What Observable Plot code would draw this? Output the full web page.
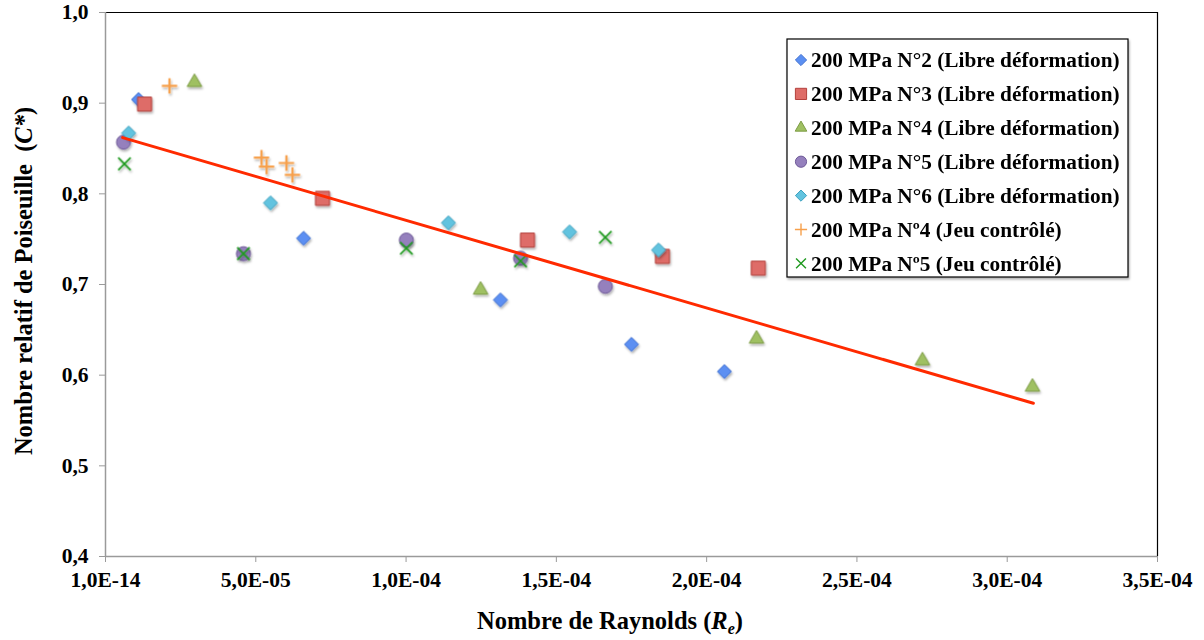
<!DOCTYPE html>
<html><head><meta charset="utf-8">
<script src="https://cdn.jsdelivr.net/npm/d3@7"></script>
<script src="https://cdn.jsdelivr.net/npm/@observablehq/plot@0.6"></script>
<style>
body{margin:0;background:#fff} #chart{width:1204px;height:640px}
#chart svg g[aria-label$="tick label"], #chart svg g[aria-label$="tick label"] text { font-size: 21.5px !important; }
</style>
</head><body><div id="chart"></div>
<script>
// ---- data ----
const seriesNames = [
  "200 MPa N°2 (Libre déformation)",
  "200 MPa N°3 (Libre déformation)",
  "200 MPa N°4 (Libre déformation)",
  "200 MPa N°5 (Libre déformation)",
  "200 MPa N°6 (Libre déformation)",
  "200 MPa Nº4 (Jeu contrôlé)",
  "200 MPa Nº5 (Jeu contrôlé)"
];
const n2X = [1.10e-5, 6.59e-5, 1.314e-4, 1.750e-4, 2.059e-4];
const n2Y = [0.904, 0.751, 0.683, 0.634, 0.604];
const n3X = [1.30e-5, 7.22e-5, 1.404e-4, 1.853e-4, 2.172e-4];
const n3Y = [0.899, 0.795, 0.749, 0.731, 0.718];
const n4X = [2.96e-5, 1.248e-4, 2.166e-4, 2.718e-4, 3.084e-4];
const n4Y = [0.923, 0.694, 0.640, 0.616, 0.587];
const n5X = [6.0e-6, 4.59e-5, 1.001e-4, 1.381e-4, 1.663e-4];
const n5Y = [0.857, 0.734, 0.749, 0.729, 0.698];
const n6X = [7.7e-6, 5.49e-5, 1.141e-4, 1.544e-4, 1.840e-4];
const n6Y = [0.867, 0.790, 0.768, 0.758, 0.738];
const j4X = [2.13e-5, 5.19e-5, 5.36e-5, 6.02e-5, 6.22e-5];
const j4Y = [0.919, 0.840, 0.830, 0.834, 0.821];
const j5X = [6.3e-6, 4.59e-5, 1.001e-4, 1.381e-4, 1.663e-4];
const j5Y = [0.833, 0.734, 0.740, 0.726, 0.752];
const trendX = [5.7e-6, 3.087e-4];
const trendY = [0.862, 0.569];
const xTicks = [1e-14, 5e-5, 1e-4, 1.5e-4, 2e-4, 2.5e-4, 3e-4, 3.5e-4];
const xTickLabels = ["1,0E-14","5,0E-05","1,0E-04","1,5E-04","2,0E-04","2,5E-04","3,0E-04","3,5E-04"];
const yTicks = [0.4, 0.5, 0.6, 0.7, 0.8, 0.9, 1.0];
const yTickLabels = ["0,4","0,5","0,6","0,7","0,8","0,9","1,0"];

// ---- styles ----
const styles = [
  {symbol:"diamond2", r:6.3, fill:"#5b8ff2", stroke:"#3f6fd0", sw:1},
  {symbol:"square",   r:7.9, fill:"#de6c67", stroke:"#b3403c", sw:1},
  {symbol:"triangle", r:5.4, fill:"#9fc062", stroke:"#7d9c45", sw:1},
  {symbol:"circle",   r:7,   fill:"#9580bd", stroke:"#6f5a98", sw:1},
  {symbol:"diamond2", r:6.3, fill:"#62c3df", stroke:"#3ea2c0", sw:1},
  {symbol:"plus",     r:5.0, fill:"none",    stroke:"#f7a04b", sw:2.2},
  {symbol:"times",    r:5.7, fill:"none",    stroke:"#1f9a1f", sw:1.7}
];
const xs = [n2X,n3X,n4X,n5X,n6X,j4X,j5X];
const ys = [n2Y,n3Y,n4Y,n5Y,n6Y,j4Y,j5Y];
const tables = xs.map((X,k) => X.map((x,i) => ({x, y: ys[k][i]})));
const trend = trendX.map((x,i) => ({x, y: trendY[i]}));

const dotMarks = tables.map((t,k) => {
  const s = styles[k];
  return Plot.dot(t, {x:"x", y:"y", symbol: () => s.symbol, r: s.r,
    fill: s.fill, stroke: s.stroke, strokeWidth: s.sw});
});

const plot = Plot.plot({
  width: 1204, height: 640,
  marginLeft: 105, marginRight: 47, marginTop: 12, marginBottom: 84,
  x: {domain: [xTicks[0], xTicks[xTicks.length-1]]},
  y: {domain: [yTicks[0], yTicks[yTicks.length-1]]},
  symbol: {type: "identity"},
  style: {fontFamily: "'Liberation Serif', 'Times New Roman', serif", fontSize: "21px", fontWeight: "bold", color: "#000", background: "#fff", overflow: "visible"},
  marks: [
    Plot.ruleX([xTicks[xTicks.length-1]], {stroke: "#000", strokeWidth: 1.2}),
    Plot.ruleY([yTicks[yTicks.length-1]], {stroke: "#000", strokeWidth: 1.2}),
    Plot.ruleX([xTicks[0]], {stroke: "#9a9a9a", strokeWidth: 1.5}),
    Plot.ruleY([yTicks[0]], {stroke: "#9a9a9a", strokeWidth: 1.5}),
    Plot.axisY(yTicks, {tickSize: 6, tickPadding: 11, stroke: "#9a9a9a", fill: "#000",
      tickFormat: d => yTickLabels[yTicks.indexOf(d)], label: null}),
    Plot.axisX(xTicks, {tickSize: 6, tickPadding: 9, stroke: "#9a9a9a", fill: "#000",
      tickFormat: d => xTickLabels[xTicks.indexOf(d)], label: null}),
    ...dotMarks,
    Plot.line(trend, {x: "x", y: "y", stroke: "#ff2a00", strokeWidth: 3})
  ]
});

document.getElementById("chart").appendChild(plot);
const svg = d3.select(plot);

// shadow filter
const defs = svg.append("defs");
const f = defs.append("filter").attr("id","sh").attr("x","-50%").attr("y","-50%").attr("width","200%").attr("height","200%");
f.append("feDropShadow").attr("dx",1).attr("dy",2).attr("stdDeviation",1.2).attr("flood-color","#000").attr("flood-opacity",0.3);
svg.selectAll("g[aria-label='dot']").attr("filter","url(#sh)");

// y title
const yt = svg.append("text")
  .attr("transform","translate(32,281) rotate(-90)")
  .attr("text-anchor","middle")
  .style("white-space","pre")
  .attr("font-size", 24.5).attr("font-weight","bold");
yt.append("tspan").text("Nombre relatif de Poiseuille  (");
yt.append("tspan").attr("font-style","italic").text("C*");
yt.append("tspan").text(")");

// x title
const xt = svg.append("text")
  .attr("x", 610).attr("y", 629)
  .attr("text-anchor","middle")
  .attr("font-size", 24.5).attr("font-weight","bold");
xt.append("tspan").text("Nombre de Raynolds (");
xt.append("tspan").attr("font-style","italic").text("R");
xt.append("tspan").attr("font-style","italic").attr("font-size",16).attr("dy",5).text("e");
xt.append("tspan").attr("dy",-5).text(")");

// legend
const lg = svg.append("g").attr("text-anchor","start");
lg.append("rect").attr("x",787).attr("y",39).attr("width",341).attr("height",238)
  .attr("fill","#fff").attr("stroke","#000").attr("stroke-width",1.2)
  .attr("filter","url(#sh)");
const symMap = {diamond2: d3.symbolDiamond2, square: d3.symbolSquare, triangle: d3.symbolTriangle,
  circle: d3.symbolCircle, plus: d3.symbolPlus, times: d3.symbolTimes};
seriesNames.forEach((name,k) => {
  const s = styles[k];
  const cy = 60 + k*33.9;
  const sc = 0.8;
  lg.append("path")
    .attr("transform", `translate(801,${cy})`)
    .attr("d", d3.symbol(symMap[s.symbol], Math.PI*(s.r*sc)*(s.r*sc))())
    .attr("fill", s.fill).attr("stroke", s.stroke).attr("stroke-width", Math.min(s.sw, 1.4));
  lg.append("text").attr("x", 811).attr("y", cy).attr("dy","0.35em")
    .attr("font-size", 21.3).attr("font-weight","bold").text(name);
});
</script>
</body></html>
